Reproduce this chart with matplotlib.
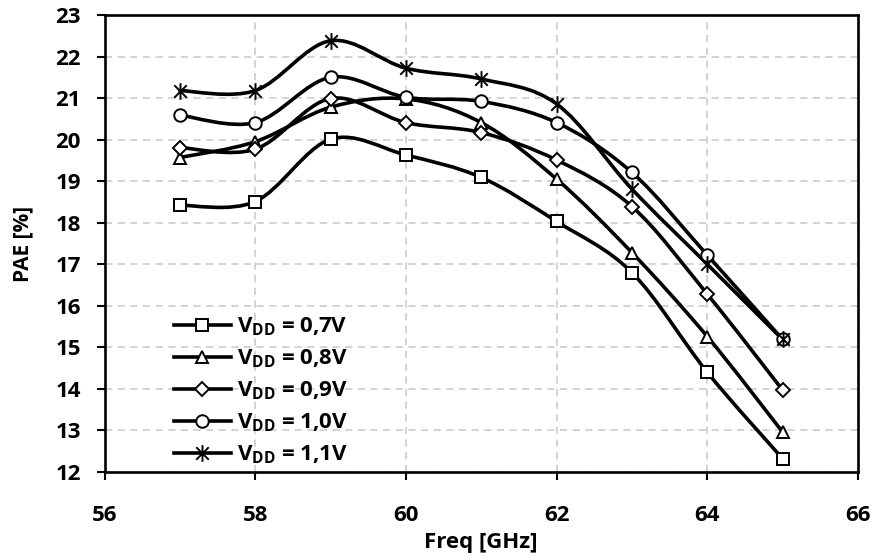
import matplotlib
matplotlib.use("Agg")
import matplotlib.pyplot as plt
from matplotlib.path import Path
from matplotlib.patches import PathPatch
from matplotlib.lines import Line2D
import numpy as np

FONT = 'Open Sans'
plt.rcParams['font.family'] = [FONT, 'DejaVu Sans']
plt.rcParams['font.weight'] = 'bold'
plt.rcParams['mathtext.fontset'] = 'custom'
plt.rcParams['mathtext.rm'] = FONT + ':bold'
plt.rcParams['mathtext.bf'] = FONT + ':bold'
plt.rcParams['mathtext.it'] = FONT + ':bold'

freq = [57, 58, 59, 60, 61, 62, 63, 64, 65]
pae_07 = [18.42, 18.51, 20.01, 19.63, 19.09, 18.03, 16.80, 14.40, 12.32]
pae_08 = [19.57, 19.95, 20.78, 20.98, 20.41, 19.05, 17.28, 15.26, 12.96]
pae_09 = [19.81, 19.77, 20.99, 20.41, 20.17, 19.51, 18.39, 16.28, 13.97]
pae_10 = [20.59, 20.41, 21.50, 21.02, 20.92, 20.41, 19.21, 17.22, 15.19]
pae_11 = [21.18, 21.18, 22.38, 21.72, 21.46, 20.86, 18.81, 17.00, 15.19]
labels = [r"$\mathregular{V_{DD}}$ = 0,7V", r"$\mathregular{V_{DD}}$ = 0,8V",
          r"$\mathregular{V_{DD}}$ = 0,9V", r"$\mathregular{V_{DD}}$ = 1,0V",
          r"$\mathregular{V_{DD}}$ = 1,1V"]
xticks = [56, 58, 60, 62, 64, 66]
yticks = list(range(12, 24))

# asterisk marker: vertical line + X
ast = Path([(0, -1), (0, 1), (-0.75, -0.75), (0.75, 0.75), (-0.75, 0.75), (0.75, -0.75)],
           [Path.MOVETO, Path.LINETO, Path.MOVETO, Path.LINETO, Path.MOVETO, Path.LINETO])
markers = ['s', '^', 'D', 'o', ast]
msizes = [8, 8, 7, 9, 12]


def smooth_path(x, y):
    p = np.column_stack([x, y]).astype(float)
    n = len(p)
    verts = [p[0]]
    codes = [Path.MOVETO]
    for i in range(n - 1):
        p0 = p[i - 1] if i > 0 else p[i]
        p1 = p[i]
        p2 = p[i + 1]
        p3 = p[i + 2] if i + 2 < n else p[i + 1]
        c1 = p1 + (p2 - p0) / 6.0
        c2 = p2 - (p3 - p1) / 6.0
        verts += [c1, c2, p2]
        codes += [Path.CURVE4] * 3
    return Path(verts, codes)


fig = plt.figure(figsize=(8.75, 5.58), dpi=100)
ax = fig.add_axes([104.5 / 875, 1 - 472 / 558, (858 - 104.5) / 875, (472 - 15) / 558])

series = [pae_07, pae_08, pae_09, pae_10, pae_11]
handles = []
for s, m, ms, lab in zip(series, markers, msizes, labels):
    patch = PathPatch(smooth_path(freq, s), fill=False, lw=2.6, edgecolor='black',
                      zorder=3, capstyle='round', joinstyle='round')
    ax.add_patch(patch)
    ax.plot(freq, s, linestyle='none', marker=m, ms=ms, mfc='white', mec='black',
            mew=1.4, zorder=4)
    handles.append(Line2D([], [], color='black', lw=2.6, marker=m, ms=ms,
                          mfc='white', mec='black', mew=1.4, label=lab))

ax.set_xlim(56, 66)
ax.set_ylim(12, 23)
ax.set_xticks(xticks)
ax.set_yticks(yticks)
ax.grid(True, color='#d0d0d0', linestyle=(0, (4, 3)), lw=1.3, zorder=0)
ax.set_axisbelow(True)
for side in ['left', 'bottom', 'right', 'top']:
    ax.spines[side].set_linewidth(1.9)
    ax.spines[side].set_color('black')
ax.tick_params(axis='both', direction='out', length=6, width=1.5, labelsize=16)
ax.tick_params(axis='y', pad=11)
ax.tick_params(axis='x', pad=18)
for lbl in ax.get_xticklabels() + ax.get_yticklabels():
    lbl.set_fontweight('bold')
ax.set_xlabel('Freq [GHz]', fontsize=16, fontweight='bold', labelpad=4)
ax.set_ylabel('PAE [%]', fontsize=15, fontweight='bold', labelpad=16)

leg = ax.legend(handles=handles, loc='lower left', bbox_to_anchor=(0.074, -0.016),
                frameon=False, fontsize=16, handlelength=2.6, labelspacing=0.42,
                handletextpad=0.25, borderaxespad=0.2)
for t in leg.get_texts():
    t.set_fontweight('bold')

fig.savefig('out.png', dpi=100)
